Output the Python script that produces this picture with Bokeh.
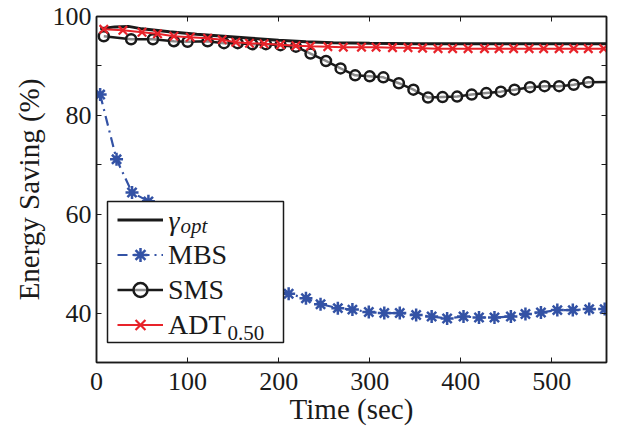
from bokeh.plotting import figure
from bokeh.models import (Range1d, FixedTicker, LinearAxis, Legend, LegendItem,
                          Label, BoxAnnotation)
from bokeh.embed import file_html
from bokeh.resources import INLINE

# ---------------- data ----------------
x_ticks = [0, 100, 200, 300, 400, 500]
y_ticks = [40, 50, 60, 70, 80, 90, 100]
y_labels = {40: "40", 50: "", 60: "60", 70: "", 80: "80", 90: "", 100: "100"}

opt_t = [4, 20, 35, 50, 80, 110, 140, 170, 200, 230, 260, 300, 350, 400, 560]
opt_v = [97.5, 97.9, 98.0, 97.5, 96.9, 96.4, 96.0, 95.6, 95.2, 94.9, 94.7, 94.6, 94.5, 94.5, 94.5]

mbs_t = [4, 22, 39, 57, 74, 91, 108, 125, 142, 159, 176, 193, 211, 230, 246, 265, 281,
         299, 316, 333, 351, 368, 385, 403, 420, 437, 455, 471, 488, 506, 523, 541, 558]
mbs_v = [84.2, 71.1, 64.4, 62.6, 58.5, 55.5, 52.8, 50.6, 48.8, 47.3, 46.0, 44.9, 43.9,
         43.0, 41.8, 41.0, 40.7, 40.2, 40.0, 40.0, 39.6, 39.3, 38.9, 39.3, 39.1, 39.1,
         39.3, 39.8, 40.1, 40.6, 40.6, 40.8, 40.8]

sms_t = [8, 38, 62, 85, 100, 122, 140, 155, 171, 186, 202, 219, 235, 252, 268, 284,
         300, 315, 332, 348, 364, 380, 396, 412, 428, 444, 459, 476, 492, 508, 524, 540, 576]
sms_v = [96.0, 95.4, 95.4, 95.0, 94.9, 95.0, 94.6, 94.6, 94.4, 94.4, 94.2, 93.9, 92.5,
         91.0, 89.5, 88.1, 87.9, 87.7, 86.5, 85.2, 83.6, 83.7, 83.8, 84.2, 84.5, 84.8,
         85.2, 85.7, 85.9, 85.9, 86.2, 86.7, 86.8]

adt_t = [8, 29, 50, 67, 85, 103, 122, 138, 153, 168, 184, 202, 219, 235, 254, 271, 291,
         307, 325, 342, 358, 375, 391, 408, 426, 442, 458, 475, 491, 508, 524, 540, 557]
adt_v = [97.4, 97.2, 96.8, 96.5, 96.0, 95.8, 95.6, 95.3, 94.8, 94.6, 94.5, 94.3, 94.1,
         94.0, 93.9, 93.8, 93.8, 93.8, 93.7, 93.7, 93.6, 93.5, 93.5, 93.5, 93.5, 93.5,
         93.5, 93.5, 93.5, 93.5, 93.5, 93.5, 93.5]

series_names = ["MBS", "SMS", "ADT"]

# ---------------- styles ----------------
FONT = "Liberation Serif"
BLACK = "#1a1a1a"
BLUE = "#3352a5"
RED = "#e8232a"

p = figure(width=617, height=430, output_backend="svg", toolbar_location=None,
           x_range=Range1d(0, 560), y_range=Range1d(30, 100),
           min_border_left=96, min_border_right=11, min_border_top=16, min_border_bottom=68,
           background_fill_color="white", border_fill_color="white")
p.grid.visible = False
p.outline_line_color = BLACK
p.outline_line_width = 1.5

# main axes
for ax, tk in ((p.xaxis[0], x_ticks), (p.yaxis[0], y_ticks)):
    ax.ticker = FixedTicker(ticks=tk)
    ax.major_tick_in = 5
    ax.major_tick_out = 0
    ax.minor_tick_in = 0
    ax.minor_tick_out = 0
    ax.axis_line_color = BLACK
    ax.axis_line_width = 1.5
    ax.major_tick_line_color = BLACK
    ax.major_label_text_font = FONT
    ax.major_label_text_font_size = "26px"
    ax.major_label_text_color = BLACK
    ax.axis_label_text_font = FONT
    ax.axis_label_text_font_size = "29px"
    ax.axis_label_text_font_style = "normal"
    ax.axis_label_text_color = BLACK
p.yaxis[0].major_label_overrides = y_labels
p.xaxis[0].axis_label = "Time (sec)"
p.yaxis[0].axis_label = "Energy Saving (%)"
p.xaxis[0].major_label_standoff = 10
p.xaxis[0].axis_label_standoff = 0
p.yaxis[0].major_label_standoff = 5
p.yaxis[0].axis_label_standoff = 5

# mirrored tick axes (top/right)
top_ax = LinearAxis(ticker=FixedTicker(ticks=x_ticks),
                    major_label_overrides={v: "" for v in x_ticks})
right_ax = LinearAxis(ticker=FixedTicker(ticks=y_ticks),
                      major_label_overrides={v: "" for v in y_ticks})
for ax in (top_ax, right_ax):
    ax.major_tick_in = 5
    ax.major_tick_out = 0
    ax.minor_tick_in = 0
    ax.minor_tick_out = 0
    ax.axis_line_color = BLACK
    ax.axis_line_width = 1.5
    ax.major_tick_line_color = BLACK
    ax.major_label_standoff = 0
p.add_layout(top_ax, "above")
p.add_layout(right_ax, "right")

# ---------------- glyphs ----------------
r_opt = p.line(opt_t, opt_v, line_color=BLACK, line_width=3)

r_mbs_l = p.line(mbs_t, mbs_v, line_color=BLUE, line_width=2.2, line_dash="10 5 2 5")
r_mbs_m = p.scatter(mbs_t, mbs_v, marker="asterisk", size=13, line_color=BLUE, line_width=2.5)

r_sms_l = p.line(sms_t, sms_v, line_color=BLACK, line_width=2.5)
r_sms_m = p.scatter(sms_t, sms_v, marker="circle", size=10, line_color=BLACK,
                    line_width=2.5, fill_color="white", fill_alpha=0.5)

r_adt_l = p.line(adt_t, adt_v, line_color=RED, line_width=2)
r_adt_m = p.scatter(adt_t, adt_v, marker="x", size=12, line_color=RED, line_width=2.2)

# ---------------- legend ----------------
box = BoxAnnotation(left=11, right=187, bottom=20, top=161,
                    left_units="screen", right_units="screen",
                    bottom_units="screen", top_units="screen",
                    fill_color="white", fill_alpha=1,
                    line_color=BLACK, line_alpha=1, line_width=1.5,
                    level="annotation")
p.add_layout(box, "center")

legend = Legend(items=[
    LegendItem(label=" ", renderers=[r_opt]),
    LegendItem(label=series_names[0], renderers=[r_mbs_l, r_mbs_m]),
    LegendItem(label=series_names[1], renderers=[r_sms_l, r_sms_m]),
    LegendItem(label=series_names[2], renderers=[r_adt_l, r_adt_m]),
], location=(21, 20), padding=0, spacing=0, margin=0,
    glyph_width=46, glyph_height=35, label_height=35, label_width=100, label_standoff=5,
    label_text_font=FONT, label_text_font_size="28px", label_text_color=BLACK,
    border_line_alpha=0, background_fill_alpha=0)
p.add_layout(legend, "center")

p.add_layout(Label(x=72, y=142.5, x_units="screen", y_units="screen", text="γ",
                   text_font=FONT, text_font_style="italic", text_font_size="28px",
                   text_baseline="middle", text_color=BLACK))
p.add_layout(Label(x=84, y=137, x_units="screen", y_units="screen", text="opt",
                   text_font=FONT, text_font_style="italic", text_font_size="21px",
                   text_baseline="middle", text_color=BLACK))
p.add_layout(Label(x=131, y=30, x_units="screen", y_units="screen", text="0.50",
                   text_font=FONT, text_font_size="21px",
                   text_baseline="middle", text_color=BLACK))

open("out.html", "w").write(file_html(p, INLINE))
